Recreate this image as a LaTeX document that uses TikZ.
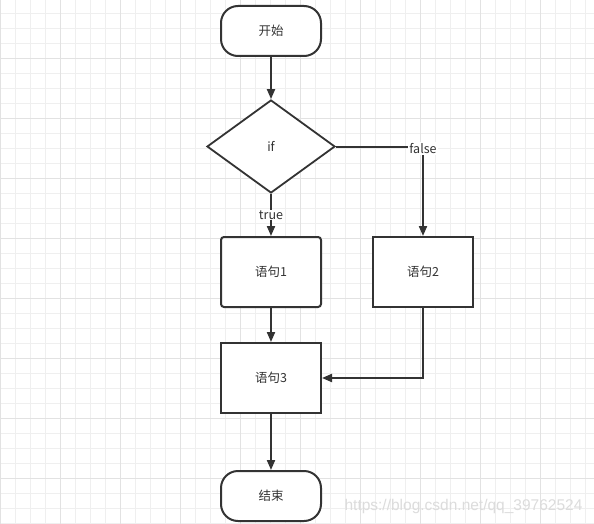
\documentclass[tikz,border=0pt]{standalone}
\usepackage{fontspec}
\setmainfont{Noto Sans CJK SC}
\newfontfamily\wmfont{Liberation Sans}
\usetikzlibrary{shapes.geometric,arrows.meta}
\definecolor{ink}{HTML}{333333}
\definecolor{gridminor}{HTML}{EFEFEF}
\definecolor{gridmajor}{HTML}{E2E2E2}
\definecolor{wm}{HTML}{DCDCDC}
\tikzset{
  every node/.style={font=\fontsize{12.5}{14}\selectfont, text=ink},
  terminal/.style={draw=ink, line width=2pt, fill=white, rounded corners=17pt, minimum width=100pt, minimum height=50pt, inner sep=0pt},
  procbox/.style={draw=ink, line width=2pt, fill=white, minimum width=100pt, minimum height=70pt, inner sep=0pt},
  decision/.style={draw=ink, line width=1.8pt, fill=white, diamond, aspect=1.376, minimum width=128pt, minimum height=93pt, inner sep=0pt},
  flow/.style={draw=ink, line width=2pt, -{Triangle[length=10pt,width=8pt]}},
  edgelabel/.style={fill=white, inner sep=1pt}
}
\begin{document}
\begin{tikzpicture}[x=1pt,y=-1pt]
\useasboundingbox (0,0) rectangle (594,524);
\fill[white] (0,0) rectangle (594,524);
% grid
\foreach \gx in {0,15,...,585} \draw[gridminor, line width=1pt] (\gx+0.5,0) -- (\gx+0.5,524);
\foreach \gy in {13,28,...,523} \draw[gridminor, line width=1pt] (0,\gy+0.5) -- (594,\gy+0.5);
\foreach \gx in {0,60,...,540} \draw[gridmajor, line width=1pt] (\gx+0.5,0) -- (\gx+0.5,524);
\foreach \gy in {58,118,...,478} \draw[gridmajor, line width=1pt] (0,\gy+0.5) -- (594,\gy+0.5);
% nodes
\node[terminal] (start) at (271,31) {开始};
\node[decision] (if) at (271,146.5) {if};
\node[procbox, rounded corners=3pt] (s1) at (271,272) {语句1};
\node[procbox] (s2) at (423,272) {语句2};
\node[procbox] (s3) at (271,378) {语句3};
\node[terminal] (end) at (271,496) {结束};
% connectors
\draw[flow] (start) -- (if);
\draw[flow] (if.south) -- node[edgelabel] {true} (s1);
\draw[flow] (if.east) -| node[edgelabel, pos=0.5, yshift=-2pt] {false} (s2.north);
\draw[flow] (s1) -- (s3);
\draw[flow] (s2.south) |- (s3.east);
\draw[flow] (s3) -- (end);
% watermark
\node[font=\wmfont\fontsize{15.5}{17}\selectfont, text=wm, inner sep=0pt, anchor=center] (wmark) at (463.5,506) {https://blog.csdn.net/qq\_39762524};
\end{tikzpicture}
\end{document}
